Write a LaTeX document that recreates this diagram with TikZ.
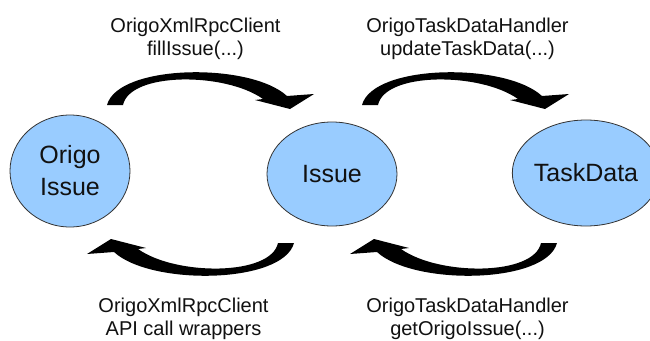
\documentclass[tikz,border=0pt]{standalone}
\usepackage{fontspec}
\setmainfont{Liberation Sans}
\usetikzlibrary{shapes.geometric}
\definecolor{ellfill}{HTML}{99CCFF}
\definecolor{ellline}{HTML}{333333}
\definecolor{txt}{HTML}{111111}
\begin{document}
\begin{tikzpicture}[x=1pt,y=-1pt,
  blob/.style={ellipse, draw=ellline, line width=0.8pt, fill=ellfill, inner sep=0pt,
    align=center, text=txt, font=\fontsize{25}{32}\selectfont},
  lbl/.style={inner sep=0pt, align=center, anchor=north, text=txt,
    font=\fontsize{20}{23}\selectfont},
  bentarrow/.pic={
    \fill[black] (107,105) .. controls (118,64) and (250,62) .. (287,96)
      -- (314,94) -- (290,109) -- (255,100) -- (263,99)
      .. controls (225,72) and (130,72) .. (123,105) -- cycle;
  }]
\useasboundingbox (0,0) rectangle (650,340);
\fill[white] (0,0) rectangle (650,340);

\node[blob, minimum width=120pt, minimum height=112pt] (origo) at (70,171) {Origo\\Issue};
\node[blob, minimum width=130pt, minimum height=104pt] (issue) at (332,174) {Issue};
\node[blob, minimum width=126pt, minimum height=106pt] (taskdata) at (586,173) {TaskData};

\pic (arrTL) at (0,0) {bentarrow};
\pic (arrTR) at (255,0) {bentarrow};
\pic[rotate=180] (arrBL) at (401,348) {bentarrow};
\pic[rotate=180] (arrBR) at (664,348) {bentarrow};

\node[lbl] (lbltl) at (195.5,17.4) {OrigoXmlRpcClient\\fillIssue(...)};
\node[lbl] (lbltr) at (467.5,17.4) {OrigoTaskDataHandler\\updateTaskData(...)};
\node[lbl] (lblbl) at (183.5,297.4) {OrigoXmlRpcClient\\API call wrappers};
\node[lbl] (lblbr) at (467.5,297.4) {OrigoTaskDataHandler\\getOrigoIssue(...)};
\end{tikzpicture}
\end{document}
